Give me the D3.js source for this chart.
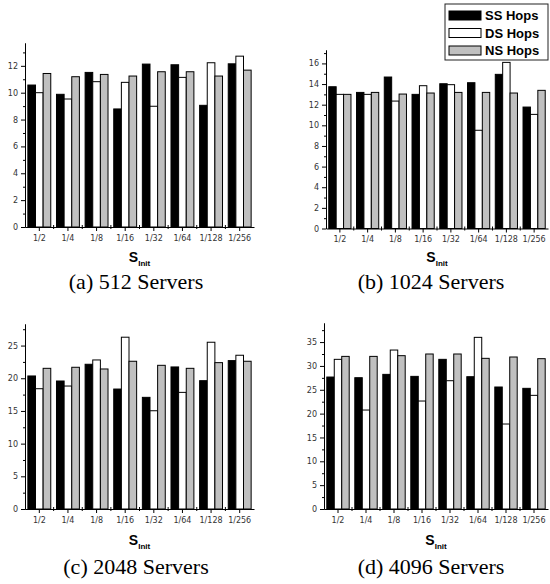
<!DOCTYPE html>
<html>
  <head>
    <meta charset="utf-8">
    <title>Hops vs S_init</title>
    <style type="text/css">
      body { margin: 0; background: #fff; }
      .tick text { font-family: "DejaVu Sans", sans-serif; font-size: 8px; fill: #333; }
      .axis path, .axis line { stroke: #000; }
    </style>
  </head>
  <body>
    <div id="viewport"></div>
    <script src="https://cdn.jsdelivr.net/npm/d3@7/dist/d3.min.js"></script>
    <script type="text/javascript">
      var categories = ["1/2", "1/4", "1/8", "1/16", "1/32", "1/64", "1/128", "1/256"];
      var seriesNames = ["SS Hops", "DS Hops", "NS Hops"];
      var seriesColors = ["#000000", "#ffffff", "#c0c0c0"];

      var ss512 = [10.57, 9.88, 11.51, 8.79, 12.13, 12.08, 9.06, 12.15];
      var ds512 = [10.0, 9.53, 10.82, 10.77, 8.99, 11.14, 12.23, 12.72];
      var ns512 = [11.43, 11.19, 11.36, 11.24, 11.56, 11.56, 11.24, 11.68];

      var ss1024 = [13.74, 13.19, 14.68, 13.0, 14.03, 14.13, 14.94, 11.77];
      var ds1024 = [13.0, 13.0, 12.35, 13.84, 13.94, 9.52, 16.1, 11.06];
      var ns1024 = [13.0, 13.19, 13.03, 13.13, 13.19, 13.19, 13.13, 13.39];

      var ss2048 = [20.35, 19.58, 22.14, 18.35, 17.08, 21.73, 19.63, 22.7];
      var ds2048 = [18.4, 18.81, 22.8, 26.28, 15.03, 17.84, 25.51, 23.52];
      var ns2048 = [21.52, 21.68, 21.42, 22.6, 21.98, 21.52, 22.39, 22.6];

      var ss4096 = [27.67, 27.53, 28.23, 27.81, 31.38, 27.74, 25.58, 25.3];
      var ds4096 = [31.38, 20.75, 33.33, 22.64, 26.9, 35.99, 17.82, 23.83];
      var ns4096 = [32.0, 32.0, 32.15, 32.5, 32.5, 31.59, 31.87, 31.52];

      var captions = ["(a) 512 Servers", "(b) 1024 Servers", "(c) 2048 Servers", "(d) 4096 Servers"];
      var yMaxes = [13.7, 17.3, 28.3, 39];
      var yMajor = [2, 2, 5, 5];
      var yMinor = [1, 1, 2.5, 2.5];

      // layout of the four panels
      var panels = [
        {series: [ss512, ds512, ns512], left: 25, right: 254, top: 43, base: 227, capX: 136, capY: 289, titleY: 262},
        {series: [ss1024, ds1024, ns1024], left: 326, right: 548, top: 50, base: 228.5, capX: 431, capY: 289, titleY: 262},
        {series: [ss2048, ds2048, ns2048], left: 25, right: 254, top: 324, base: 509, capX: 136, capY: 574, titleY: 545},
        {series: [ss4096, ds4096, ns4096], left: 324, right: 548, top: 323, base: 509, capX: 431, capY: 574, titleY: 545}
      ];

      var svg = d3.select("#viewport").append("svg")
        .attr("width", 550)
        .attr("height", 584);

      panels.forEach(drawPanel);
      drawLegend();

      function drawPanel(p, i) {
        var g = svg.append("g");

        var x0 = d3.scaleBand()
          .domain(categories)
          .range([p.left, p.right])
          .paddingInner(0.2)
          .paddingOuter(0.1);

        var x1 = d3.scaleBand()
          .domain(d3.range(seriesNames.length))
          .range([0, x0.bandwidth()]);

        var y = d3.scaleLinear()
          .domain([0, yMaxes[i]])
          .range([p.base, p.top]);

        // bars
        p.series.forEach(function (vals, s) {
          g.selectAll(".bar-" + s)
            .data(vals).enter()
            .append("rect")
              .attr("class", "bar-" + s)
              .attr("x", function (d, k) { return x0(categories[k]) + x1(s); })
              .attr("y", function (d) { return y(d); })
              .attr("width", x1.bandwidth())
              .attr("height", function (d) { return y(0) - y(d); })
              .attr("fill", seriesColors[s])
              .attr("stroke", "#000")
              .attr("stroke-width", 1);
        });

        // y axis
        var majors = d3.range(0, yMaxes[i], yMajor[i]);
        var minors = d3.range(0, yMaxes[i], yMinor[i]).filter(function (v) {
          return majors.indexOf(v) < 0;
        });
        g.append("g")
          .attr("class", "axis")
          .attr("transform", "translate(" + p.left + ",0)")
          .call(d3.axisLeft(y).tickValues(minors).tickSize(2).tickFormat("").tickSizeOuter(0));
        g.append("g")
          .attr("class", "axis")
          .attr("transform", "translate(" + p.left + ",0)")
          .call(d3.axisLeft(y).tickValues(majors).tickSize(4).tickPadding(3).tickSizeOuter(0));

        // x axis
        var step = x0.step();
        var bounds = categories.slice(1).map(function (c) {
          return x0(c) - step * x0.paddingInner() / 2;
        });
        g.selectAll(".minor-x")
          .data(bounds).enter()
          .append("line")
            .attr("class", "minor-x")
            .attr("x1", function (d) { return d; })
            .attr("x2", function (d) { return d; })
            .attr("y1", p.base - 2)
            .attr("y2", p.base + 2)
            .attr("stroke", "#000");
        g.append("g")
          .attr("class", "axis")
          .attr("transform", "translate(0," + p.base + ")")
          .call(d3.axisBottom(x0).tickSize(4).tickPadding(4).tickSizeOuter(0));

        // axis title S_Init
        var t = g.append("text")
          .attr("x", (p.left + p.right) / 2)
          .attr("y", p.titleY)
          .attr("text-anchor", "middle")
          .style("font-family", "'Liberation Sans', Arial, sans-serif")
          .style("font-weight", "bold");
        t.append("tspan").style("font-size", "14px").text("S");
        t.append("tspan").style("font-size", "8px").attr("dy", 4).text("Init");

        // caption
        g.append("text")
          .attr("x", p.capX)
          .attr("y", p.capY)
          .attr("text-anchor", "middle")
          .style("font-family", "'Liberation Serif', 'Times New Roman', serif")
          .style("font-size", "22px")
          .text(captions[i]);
      }

      function drawLegend() {
        var lg = svg.append("g").attr("transform", "translate(445,4)");
        lg.append("rect")
          .attr("width", 103)
          .attr("height", 56)
          .attr("fill", "#fff")
          .attr("stroke", "#222")
          .attr("stroke-width", 1);
        var rows = lg.selectAll(".row")
          .data(seriesNames).enter()
          .append("g")
            .attr("class", "row")
            .attr("transform", function (d, k) { return "translate(4," + (7 + k * 17.5) + ")"; });
        rows.append("rect")
          .attr("width", 32)
          .attr("height", 9)
          .attr("fill", function (d, k) { return seriesColors[k]; })
          .attr("stroke", "#000");
        rows.append("text")
          .attr("x", 36)
          .attr("y", 9)
          .style("font-family", "'Liberation Sans', Arial, sans-serif")
          .style("font-weight", "bold")
          .style("font-size", "13px")
          .text(function (d) { return d; });
      }
    </script>
  </body>
</html>
